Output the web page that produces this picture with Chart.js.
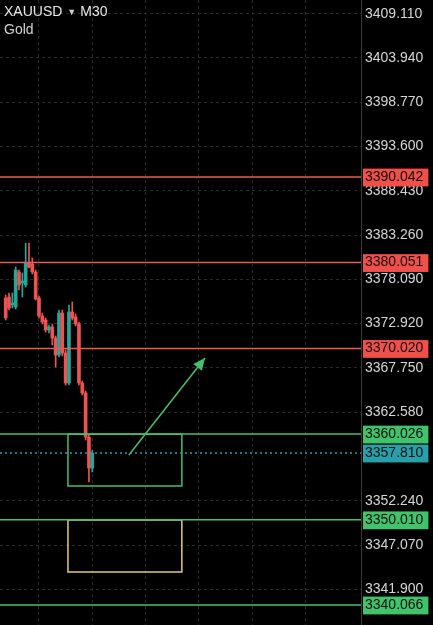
<!DOCTYPE html>
<html>
<head>
<meta charset="utf-8">
<script src="https://cdn.jsdelivr.net/npm/chart.js@4/dist/chart.umd.min.js"></script>
<style>
  html, body { margin: 0; padding: 0; background: #000; }
  #wrap { position: relative; width: 433px; height: 625px; overflow: hidden; background: #000; }
  #c { position: absolute; left: 0; top: 0; }
  #hdr { position: absolute; left: 4px; top: 3px; font-family: "Liberation Sans", Arial, sans-serif; color: #e8e8e8; font-size: 14px; line-height: 16px; pointer-events: none; }
  #hdr .arr { font-size: 9px; color: #cfcfcf; margin: 0 4px 0 5px; position: relative; top: -1px; }
  #hdr .sub { color: #d2d2d2; }
</style>
</head>
<body>
<div id="wrap">
  <canvas id="c" width="433" height="625"></canvas>
  <div id="hdr"><div>XAUUSD<span class="arr">▼</span>M30</div><div class="sub">Gold</div></div>
</div>
<script>
// ---- data ----
const candleIndex = [0,1,2,3,4,5,6,7,8,9,10,11,12,13,14,15,16,17,18,19,20,21,22,23,24,25,26];
const opens  = [3375.91,3376.03,3375.10,3374.86,3378.95,3377.66,3377.43,3380.00,3379.88,3378.95,3375.91,3373.81,3373.34,3372.18,3372.53,3371.24,3369.26,3374.16,3369.49,3365.99,3374.28,3373.69,3372.88,3365.99,3364.82,3359.68,3356.06];
const highs  = [3376.26,3376.50,3376.50,3379.53,3379.18,3378.83,3382.33,3382.33,3380.58,3379.18,3376.15,3374.16,3373.58,3372.76,3372.88,3371.48,3374.51,3374.51,3369.84,3375.10,3375.45,3374.05,3373.11,3366.22,3365.05,3359.92,3358.16];
const lows   = [3373.34,3374.51,3374.75,3374.63,3376.85,3376.03,3377.20,3379.42,3378.72,3375.68,3373.58,3372.88,3371.94,3371.83,3370.43,3367.86,3369.02,3369.14,3365.75,3365.75,3373.34,3372.64,3365.75,3364.59,3359.33,3354.43,3355.60];
const closes = [3373.58,3374.75,3375.33,3379.18,3377.43,3377.90,3380.00,3379.53,3378.95,3375.80,3373.81,3373.11,3372.18,3372.53,3371.24,3369.26,3374.16,3369.49,3365.99,3374.28,3373.58,3372.88,3365.99,3364.82,3359.68,3356.06,3357.81];

const yTickLabels = [3409.110,3403.940,3398.770,3393.600,3388.430,3383.260,3378.090,3372.920,3367.750,3362.580,3352.240,3347.070,3341.900];
const redLevels   = [3390.042,3380.051,3370.020];
const greenLevels = [3360.026,3350.010,3340.066];
const lastPrice   = 3357.810;
const timeGrid    = [10,26,42,58,74,90];

// zones: [xStart, xEnd, priceTop, priceBottom]
const buyZone  = [18.7, 52.9, 3360.0, 3353.96];
const targetZone = [18.7, 52.9, 3350.0, 3343.92];
// arrow: [xStart, priceStart, xEnd, priceEnd]
const arrowPts = [37.0, 3357.58, 59.85, 3368.91];

// ---- config ----
const X_MIN = -1.71, X_MAX = 106.7, Y_MIN = 3337.73, Y_MAX = 3410.71;
const UP = '#26a69a', DOWN = '#ef5350';
const RED = '#ef5a4f', GREEN = '#46bf6b', TEAL = '#26a0ab', YELLOW = '#e2cc72';
const GRID = '#2a2a2a';

const candleColor = ctx => {
  const i = ctx.dataIndex;
  return closes[i] >= opens[i] ? UP : DOWN;
};
const bodies = candleIndex.map((x, i) => ({x, y: [opens[i], closes[i]]}));
const wicks = candleIndex.map((x, i) => ({x, y: [lows[i], highs[i]]}));

function hLine(v, color, dash) {
  return {type: 'line', data: [{x: X_MIN, y: v}, {x: X_MAX, y: v}], borderColor: color,
    borderWidth: 1.5, borderDash: dash || [], pointRadius: 0, order: 0};
}
function rect(z, color) {
  return {type: 'line', data: [{x: z[0], y: z[2]}, {x: z[1], y: z[2]}, {x: z[1], y: z[3]}, {x: z[0], y: z[3]}, {x: z[0], y: z[2]}],
    borderColor: color, borderWidth: 1.5, pointRadius: 0, order: 0, tension: 0};
}

const datasets = [
  {type: 'bar', label: 'wick', data: wicks, backgroundColor: candleColor, barThickness: 1, grouped: false, order: 3},
  {type: 'bar', label: 'body', data: bodies, backgroundColor: candleColor, barThickness: 3, grouped: false, order: 2},
  ...redLevels.map(v => hLine(v, RED)),
  ...greenLevels.map(v => hLine(v, GREEN)),
  hLine(lastPrice, TEAL, [2, 3]),
  rect(buyZone, GREEN),
  rect(targetZone, YELLOW),
  {type: 'line', label: 'arrow', data: [{x: arrowPts[0], y: arrowPts[1]}, {x: arrowPts[2], y: arrowPts[3]}],
    borderColor: GREEN, borderWidth: 1.5, pointRadius: 0, order: 0}
];
const ARROW_INDEX = datasets.length - 1;

const levelColor = {};
redLevels.forEach(v => levelColor[v] = '#f04f4a');
greenLevels.forEach(v => levelColor[v] = '#3fc46c');
levelColor[lastPrice] = TEAL;
const allTicks = [...yTickLabels, ...redLevels, ...greenLevels, lastPrice].sort((a, b) => a - b);

const arrowHead = {
  id: 'arrowHead',
  afterDatasetsDraw(chart) {
    const meta = chart.getDatasetMeta(ARROW_INDEX);
    const p0 = meta.data[0], p1 = meta.data[1];
    const a = Math.atan2(p1.y - p0.y, p1.x - p0.x);
    const len = 12, hw = 5.5;
    const c = chart.ctx;
    c.save();
    c.fillStyle = GREEN;
    c.beginPath();
    c.moveTo(p1.x, p1.y);
    c.lineTo(p1.x - len * Math.cos(a) + hw * Math.sin(a), p1.y - len * Math.sin(a) - hw * Math.cos(a));
    c.lineTo(p1.x - len * Math.cos(a) - hw * Math.sin(a), p1.y - len * Math.sin(a) + hw * Math.cos(a));
    c.closePath();
    c.fill();
    c.restore();
  }
};

new Chart(document.getElementById('c'), {
  type: 'bar',
  data: {datasets},
  options: {
    responsive: false,
    animation: false,
    devicePixelRatio: 1,
    layout: {padding: 0},
    plugins: {legend: {display: false}, tooltip: {enabled: false}},
    scales: {
      x: {
        type: 'linear', min: X_MIN, max: X_MAX, offset: false,
        afterBuildTicks: s => { s.ticks = timeGrid.map(v => ({value: v})); },
        afterFit: s => { s.height = 0; s.paddingLeft = 0; s.paddingRight = 0; },
        ticks: {display: false},
        grid: {color: GRID, drawTicks: false, offset: false},
        border: {display: false, dash: [3, 3]}
      },
      y: {
        type: 'linear', position: 'right', min: Y_MIN, max: Y_MAX,
        afterBuildTicks: s => { s.ticks = allTicks.map(v => ({value: v})); },
        afterFit: s => { s.width = 72; s.paddingTop = 0; s.paddingBottom = 0; },
        grid: {
          color: ctx => (ctx.tick && levelColor[ctx.tick.value]) ? 'rgba(0,0,0,0)' : GRID,
          drawTicks: false
        },
        border: {display: true, color: '#3a3a3a', width: 1, dash: [3, 3]},
        ticks: {
          autoSkip: false,
          padding: 4,
          font: {family: '"Liberation Sans", Arial, sans-serif', size: 14},
          color: ctx => levelColor[ctx.tick.value] ? '#101010' : '#d6d6d6',
          showLabelBackdrop: ctx => !!levelColor[ctx.tick.value],
          backdropColor: ctx => levelColor[ctx.tick.value] || 'rgba(0,0,0,0)',
          backdropPadding: {top: 0, bottom: 1, left: 2, right: 5},
          callback: v => Number(v).toFixed(3)
        }
      }
    }
  },
  plugins: [arrowHead]
});
</script>
</body>
</html>
